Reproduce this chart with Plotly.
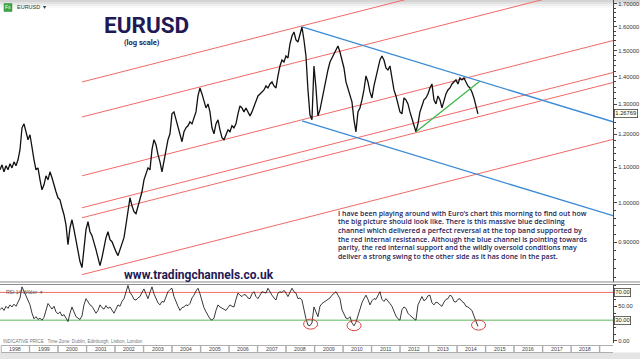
import math
import plotly.graph_objects as go
import pandas as pd

# ---------------- data ----------------
price_start = "1997-12-18"
price_step = "615h"
eurusd_close = [
    1.0918, 1.1064, 1.0860, 1.1035, 1.0918, 1.1094, 1.0976, 1.1153, 1.1035, 1.1213,
    1.1520, 1.2212, 1.2342, 1.2083, 1.1830, 1.1988, 1.1520, 1.1213, 1.0918, 1.0976,
    1.0631, 1.0352, 1.0491, 1.0745, 1.0631, 1.0860, 1.0688, 1.0463, 1.0297, 1.0134,
    1.0080, 0.9868, 0.9686, 0.9431, 0.8944, 0.9356, 0.9557, 0.9307, 0.9063, 0.8778,
    0.8549, 0.8413, 0.8825, 0.9307, 0.9507, 0.9257, 0.9160, 0.9015, 0.8825, 0.8640,
    0.8458, 0.8640, 0.8872, 0.9112, 0.9257, 0.9063, 0.9015, 0.8872, 0.8778, 0.8686,
    0.8825, 0.8920, 0.9112, 0.9431, 0.9763, 1.0134, 0.9920, 0.9763, 0.9711, 0.9920,
    1.0080, 1.0297, 1.0631, 1.0802, 1.0976, 1.0918, 1.1520, 1.1830, 1.1674, 1.1368,
    1.1153, 1.0860, 1.1213, 1.1582, 1.1830, 1.2019, 1.2674, 1.2741, 1.2474, 1.2310,
    1.1988, 1.1768, 1.2083, 1.2212, 1.2277, 1.2408, 1.2342, 1.2541, 1.2741, 1.3295,
    1.3582, 1.3366, 1.3085, 1.2877, 1.3015, 1.2741, 1.2212, 1.2019, 1.2342, 1.2474,
    1.2148, 1.1893, 1.1830, 1.2019, 1.2148, 1.2083, 1.2277, 1.2212, 1.2342, 1.2674,
    1.2946, 1.2877, 1.2741, 1.2877, 1.2741, 1.2607, 1.2741, 1.2946, 1.3155, 1.3295,
    1.3366, 1.3438, 1.3509, 1.3654, 1.3582, 1.3727, 1.3800, 1.3654, 1.3582, 1.4023,
    1.4401, 1.4633, 1.4555, 1.4790, 1.4711, 1.5270, 1.5598, 1.5765, 1.5433, 1.5351,
    1.5681, 1.5977, 1.5433, 1.4790, 1.3509, 1.2641, 1.2474, 1.4401, 1.3582, 1.2607,
    1.2809, 1.3155, 1.3509, 1.3948, 1.4248, 1.4555, 1.4711, 1.4869, 1.5028, 1.5188,
    1.4948, 1.4633, 1.4324, 1.3800, 1.3582, 1.3366, 1.3085, 1.2474, 1.2083, 1.2741,
    1.2877, 1.3155, 1.3509, 1.4023, 1.3800, 1.3438, 1.3225, 1.3654, 1.3948, 1.4324,
    1.4633, 1.4790, 1.4633, 1.4324, 1.4248, 1.4401, 1.3874, 1.3509, 1.3295, 1.3015,
    1.2741, 1.2674, 1.3225, 1.3155, 1.3015, 1.2741, 1.2541, 1.2342, 1.2083, 1.2342,
    1.2741, 1.2946, 1.3155, 1.3225, 1.3366, 1.3582, 1.3727, 1.3155, 1.3015, 1.3295,
    1.3155, 1.2877, 1.3155, 1.3366, 1.3509, 1.3582, 1.3727, 1.3800, 1.3874, 1.3727,
    1.3948, 1.3874, 1.3948, 1.3800, 1.3654, 1.3582, 1.3438, 1.3225, 1.2946, 1.2677,
]
rsi14 = [
    45, 48, 44, 50, 47, 52, 49, 53, 50, 55,
    62, 78, 72, 66, 58, 52, 40, 32, 35, 31,
    33, 30, 34, 45, 54, 50, 46, 50, 42, 39,
    42, 36, 38, 33, 28, 40, 49, 42, 35, 33,
    31, 36, 52, 61, 57, 52, 50, 45, 40, 44,
    52, 48, 46, 51, 47, 49, 44, 40, 46, 52,
    50, 57, 61, 72, 80, 70, 66, 60, 59, 62,
    64, 70, 75, 68, 61, 70, 78, 68, 61, 55,
    52, 57, 56, 64, 71, 74, 76, 64, 56, 50,
    44, 48, 49, 52, 51, 54, 62, 66, 72, 76,
    68, 56, 48, 42, 36, 32, 30, 33, 44, 52,
    49, 47, 45, 44, 48, 52, 50, 49, 60, 69,
    66, 64, 67, 66, 62, 61, 68, 71, 64, 61,
    66, 71, 70, 69, 76, 70, 66, 62, 59, 69,
    71, 70, 73, 69, 64, 70, 76, 71, 69, 61,
    62, 59, 45, 32, 23, 22, 26, 49, 42, 35,
    50, 54, 56, 58, 61, 62, 66, 68, 71, 66,
    61, 45, 38, 33, 32, 35, 26, 22, 27, 36,
    47, 55, 61, 66, 60, 52, 58, 61, 60, 66,
    71, 60, 57, 61, 58, 54, 50, 42, 36, 32,
    30, 45, 49, 47, 40, 37, 34, 32, 30, 52,
    58, 64, 58, 60, 65, 66, 55, 52, 56, 55,
    52, 50, 56, 60, 61, 66, 64, 57, 56, 60,
    61, 57, 55, 50, 49, 47, 44, 36, 28, 21,
]
last_price = 1.26769

x_range = ["1997-12-18", "2019-06-21"]
years = list(range(1998, 2020))

price_ticks = [0.9, 1.0, 1.1, 1.2, 1.3, 1.4, 1.5, 1.6, 1.7]
price_minor_ticks = [0.82, 0.84, 0.86, 0.88, 0.92, 0.94, 0.96, 0.98, 1.02, 1.04, 1.06, 1.08,
                     1.12, 1.14, 1.16, 1.18, 1.22, 1.24, 1.26, 1.28, 1.32, 1.34, 1.36, 1.38,
                     1.42, 1.44, 1.46, 1.48, 1.52, 1.54, 1.56, 1.58, 1.62, 1.64, 1.66, 1.68]
price_range = [0.8096, 1.717]
rsi_plain_ticks = [0, 50]
rsi_levels = [70, 30]
rsi_range = [-2.9, 81.4]

red_dates = ["2000-11-03", "2019-06-21"]
red_start_prices = [1.380, 1.257, 1.0745, 0.9868, 0.9608, 0.8256]
red_end_prices = [1.979, 1.803, 1.541, 1.415, 1.378, 1.184]
blue_dates = ["2008-07-24", "2019-06-21"]
blue_start_prices = [1.598, 1.244]
blue_end_prices = [1.241, 0.966]
green_dates = ["2012-07-23", "2014-10-22"]
green_prices = [1.2083, 1.3837]
oversold_dates = ["2008-11-10", "2010-05-21", "2014-10-02"]
oversold_rsi = [24.3, 22.1, 22.9]

comment_lines = [
    "I have been playing around with Euro\u2019s chart this morning to find out how",
    "the big picture should look like. There is this massive blue declining",
    "channel which delivered a perfect reversal at the top band supported by",
    "the red internal resistance. Although the blue channel is pointing towards",
    "parity, the red internal support and the wildly oversold conditions may",
    "deliver a strong swing to the other side as it has done in the past.",
]

# ---------------- layout helpers (pixel -> paper) ----------------
W_PLOT, H_PLOT = 613, 343


def px(x):
    return x / W_PLOT


def py(y):
    return (H_PLOT - y) / H_PLOT


NAVY = "#1f1a55"
RED = "#f26a66"
BLUE = "#3a8ad6"
GREEN = "#3db54a"

dates = pd.date_range(price_start, periods=len(eurusd_close), freq=price_step)

fig = go.Figure()

for p0, p1 in zip(red_start_prices, red_end_prices):
    fig.add_trace(go.Scatter(x=red_dates, y=[p0, p1], mode="lines",
                             line=dict(color=RED, width=1), xaxis="x", yaxis="y", hoverinfo="skip"))
for p0, p1 in zip(blue_start_prices, blue_end_prices):
    fig.add_trace(go.Scatter(x=blue_dates, y=[p0, p1], mode="lines",
                             line=dict(color=BLUE, width=1.3), xaxis="x", yaxis="y", hoverinfo="skip"))

fig.add_trace(go.Scatter(x=dates, y=eurusd_close, mode="lines",
                         line=dict(color="#111111", width=1.3), xaxis="x", yaxis="y"))
fig.add_trace(go.Scatter(x=green_dates, y=green_prices, mode="lines",
                         line=dict(color=GREEN, width=1.3), xaxis="x", yaxis="y", hoverinfo="skip"))

# RSI panel
fig.add_trace(go.Scatter(x=x_range, y=[rsi_levels[0]] * 2, mode="lines",
                         line=dict(color=RED, width=1), xaxis="x2", yaxis="y2"))
fig.add_trace(go.Scatter(x=x_range, y=[rsi_levels[1]] * 2, mode="lines",
                         line=dict(color="#5cb85c", width=1), xaxis="x2", yaxis="y2"))
fig.add_trace(go.Scatter(x=dates, y=rsi14, mode="lines",
                         line=dict(color="#222222", width=0.9), xaxis="x2", yaxis="y2"))

shapes = []
for d, v in zip(oversold_dates, oversold_rsi):
    shapes.append(dict(type="circle", xref="x2", yref="y2", xsizemode="pixel", ysizemode="pixel",
                       xanchor=d, yanchor=v, x0=-7, x1=7, y0=-5, y1=5,
                       line=dict(color="#d9443c", width=1)))
for (a, b, c) in [(0, 2, "#d4d4d4"), (2, 4, "#e2e2e2"), (4, 6, "#efefef"), (6, 8, "#f8f8f8")]:
    shapes.append(dict(type="rect", xref="paper", yref="paper", x0=0, x1=640 / W_PLOT,
                       y0=py(b), y1=py(a), fillcolor=c, line=dict(width=0), layer="below"))
for yy in (282, 284.5):
    shapes.append(dict(type="line", xref="paper", yref="paper", x0=0, x1=640 / W_PLOT,
                       y0=py(yy), y1=py(yy), line=dict(color="#8c8c8c", width=1.2)))
shapes.append(dict(type="rect", xref="paper", yref="paper", x0=0, x1=640 / W_PLOT,
                   y0=py(359), y1=py(352.5), fillcolor="#e4e4e4", line=dict(width=0)))
for yr in years:
    shapes.append(dict(type="rect", xref="x2", yref="paper",
                       x0=f"{yr}-01-03", x1=f"{yr}-12-29", y0=py(352.5), y1=py(345.5),
                       fillcolor="white", line=dict(color="#9a9a9a", width=0.8)))
shapes.append(dict(type="rect", xref="paper", yref="paper", x0=px(4), x1=px(12),
                   y0=py(11.5), y1=py(3.5), fillcolor="#3aa846", line=dict(color="#2d8a38", width=0.5)))


def note(text, x, y, size, color, family="Liberation Sans", xanchor="center", weight="normal", **kw):
    d = dict(text=text, x=x, y=y, xref=kw.pop("xref", "paper"), yref=kw.pop("yref", "paper"),
             xanchor=xanchor, yanchor="middle", showarrow=False,
             font=dict(family=family, size=size, color=color, weight=weight))
    d.update(kw)
    return d


annotations = [
    note("EURUSD", px(146.5), py(25.5), 22.5, NAVY, "Roboto", weight="bold"),
    note("(log scale)", px(141.5), py(42), 7.5, NAVY, "Roboto", weight="bold"),
    note("www.tradingchannels.co.uk", px(121.5), py(274.5), 12, NAVY, "Roboto", "left", "bold"),
    note("Fx", px(8), py(7.5), 5, "white"),
    note("EURUSD  \u25be", px(15), py(7.5), 5.5, "#333333", xanchor="left"),
    note("RSI 14 Wilder  \u25be", px(4), py(292), 5, "#555555", xanchor="left"),
    note("INDICATIVE PRICE   Time Zone: Dublin, Edinburgh, Lisbon, London", px(0.5), py(341),
         4.6, "#777777", xanchor="left"),
]
for i, line in enumerate(comment_lines):
    annotations.append(note(line, px(335.5), py(213 + 8.7 * i), 7, NAVY, "Open Sans", "left", 600))
for yr in years[:-1]:
    annotations.append(note(str(yr), f"{yr}-07-02", py(349), 5.3, "#444444", xref="x2"))
annotations.append(note(f"{last_price:.5f}", 1, math.log10(last_price), 5.8, "#222222",
                        xanchor="left", yref="y", xshift=1, bgcolor="#fffff2",
                        bordercolor="#444444", borderwidth=0.8, borderpad=0.5))
for lv in rsi_levels:
    annotations.append(note(f"{lv:.2f}", 1, lv, 5.8, "#222222", xanchor="left", yref="y2", xshift=1,
                            bgcolor="#fffff2", bordercolor="#444444", borderwidth=0.8, borderpad=0.5))

axis_common = dict(showgrid=False, zeroline=False)
fig.update_layout(
    width=640, height=359, autosize=False,
    margin=dict(l=0, r=27, t=0, b=16, pad=0),
    paper_bgcolor="white", plot_bgcolor="white",
    showlegend=False,
    xaxis=dict(domain=[0, 1], anchor="y", range=x_range, showticklabels=False, ticks="",
               **axis_common),
    xaxis2=dict(domain=[0, 1], anchor="y2", range=x_range, showticklabels=False, ticks="",
                **axis_common),
    yaxis=dict(domain=[py(282), 1], anchor="x", type="log",
               range=[math.log10(price_range[0]), math.log10(price_range[1])], side="right",
               tickvals=price_ticks, tickformat=".5f", ticks="outside", ticklen=3,
               tickcolor="#444444", showline=True, linecolor="#444444", linewidth=1,
               tickfont=dict(family="Liberation Sans", size=5.8, color="#333333"),
               minor=dict(tickvals=price_minor_ticks, ticks="outside", ticklen=2, tickcolor="#444444"),
               **axis_common),
    yaxis2=dict(domain=[0, py(284.5)], anchor="x2", range=rsi_range, side="right",
                tickvals=rsi_plain_ticks, ticktext=[f"{v:.2f}" for v in rsi_plain_ticks],
                ticks="outside", ticklen=3, tickcolor="#444444", showline=True,
                linecolor="#444444", linewidth=1,
                tickfont=dict(family="Liberation Sans", size=5.8, color="#333333"),
                minor=dict(dtick=10, ticks="outside", ticklen=2, tickcolor="#444444"),
                **axis_common),
    shapes=shapes,
    annotations=annotations,
)

fig.write_html("out.html", config={"displayModeBar": False},
               post_script="document.body.style.margin='0px';document.body.style.overflow='hidden';")
